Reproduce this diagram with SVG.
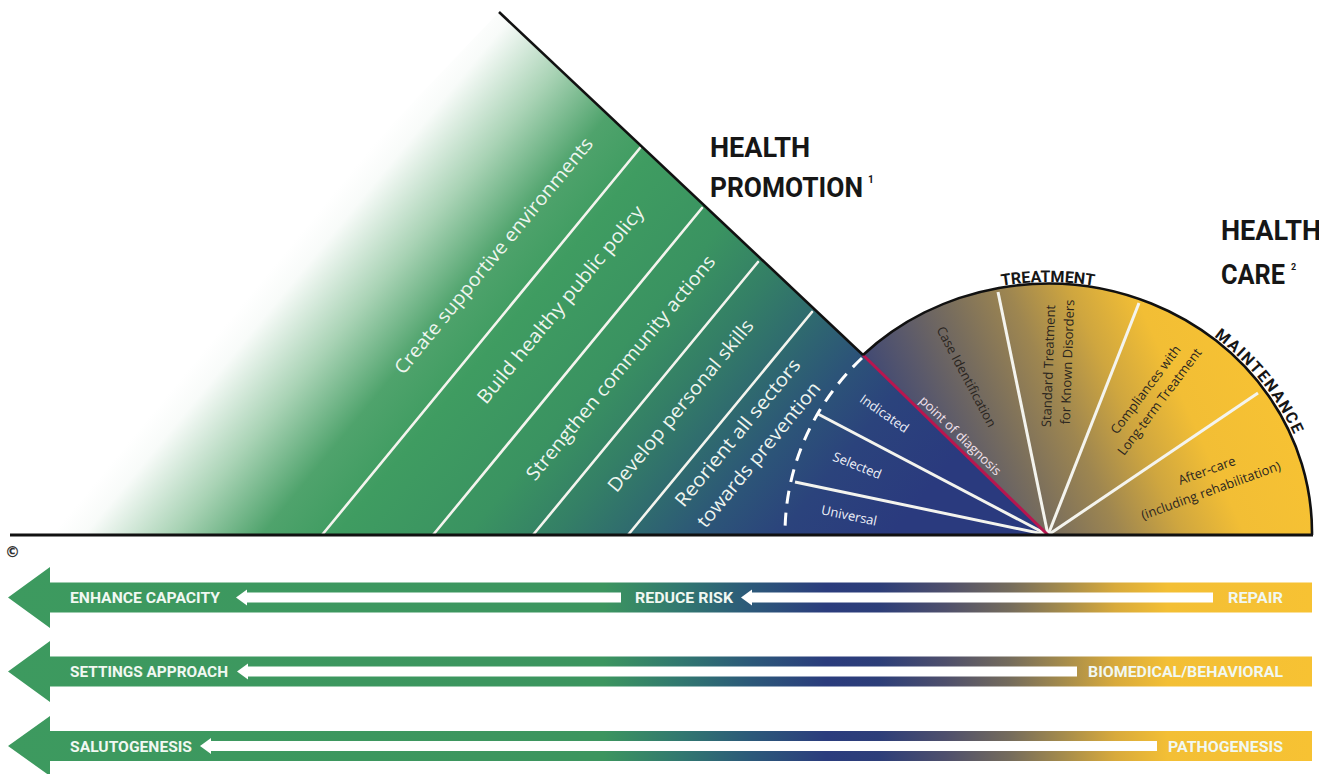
<svg xmlns="http://www.w3.org/2000/svg" width="1319" height="774" viewBox="0 0 1319 774">
<defs>
<linearGradient id="gTri" gradientUnits="userSpaceOnUse" x1="294" y1="241" x2="850" y2="699">
<stop offset="0" stop-color="#ffffff"/>
<stop offset="0.035" stop-color="#f8fbf9"/>
<stop offset="0.13" stop-color="#a9d3b5"/>
<stop offset="0.225" stop-color="#4fa36c"/>
<stop offset="0.305" stop-color="#3f9c61"/>
<stop offset="0.445" stop-color="#3a9361"/>
<stop offset="0.54" stop-color="#347f66"/>
<stop offset="0.62" stop-color="#2f6a6f"/>
<stop offset="0.7" stop-color="#2c5478"/>
<stop offset="0.78" stop-color="#2b437c"/>
<stop offset="0.9" stop-color="#2a3a7e"/>
<stop offset="1" stop-color="#2a3a7e"/>
</linearGradient>
<linearGradient id="gFan" gradientUnits="userSpaceOnUse" x1="880" y1="500" x2="1250" y2="330">
<stop offset="0" stop-color="#2d3c7c"/>
<stop offset="0.1" stop-color="#3f4874"/>
<stop offset="0.22" stop-color="#5a596b"/>
<stop offset="0.35" stop-color="#786d5d"/>
<stop offset="0.5" stop-color="#9e8650"/>
<stop offset="0.64" stop-color="#cfa63f"/>
<stop offset="0.78" stop-color="#f2be35"/>
<stop offset="1" stop-color="#f7c233"/>
</linearGradient>
<linearGradient id="gArrow" gradientUnits="userSpaceOnUse" x1="0" y1="0" x2="1312" y2="0">
<stop offset="0" stop-color="#3d9a5f"/>
<stop offset="0.46" stop-color="#3c955f"/>
<stop offset="0.52" stop-color="#317770"/>
<stop offset="0.57" stop-color="#2c5a79"/>
<stop offset="0.63" stop-color="#2b3c7d"/>
<stop offset="0.67" stop-color="#2d3e79"/>
<stop offset="0.72" stop-color="#4e4f6c"/>
<stop offset="0.77" stop-color="#756c5c"/>
<stop offset="0.81" stop-color="#a48b4c"/>
<stop offset="0.85" stop-color="#d8aa3c"/>
<stop offset="0.89" stop-color="#f3bf35"/>
<stop offset="1" stop-color="#f7c233"/>
</linearGradient>
<path id="outerArc" d="M 780,535 A 268 253 0 0 1 1316,535"/>
</defs>
<style>
.wl{stroke:#f4f4ee;stroke-width:2.6;fill:none;stroke-linecap:round}
.fl{stroke:#f4f4ee;stroke-width:3;fill:none}
.out{stroke:#111;stroke-width:2.6;fill:none}
.tri{font-family:"Open Sans","DejaVu Sans",sans-serif;font-size:19px;fill:#eef5ef;text-anchor:middle}
.fan{font-family:"Open Sans","DejaVu Sans",sans-serif;font-size:13px;text-anchor:middle}
.dark{fill:#2a2520}
.light{fill:#eef0f8}
.head{font-family:Roboto,"Liberation Sans",sans-serif;font-weight:700;fill:#161616}
.arc{font-family:Roboto,"Liberation Sans",sans-serif;font-weight:700;font-size:16px;fill:#161616}
.ab{font-family:Roboto,"Liberation Sans",sans-serif;font-weight:700;font-size:15px;fill:#f1f8f2}
.wa{fill:#ffffff}
</style>

<g id="promotion-triangle">
<path d="M 499,12 L 863,355 L 1048,535 L 0,535 Z" fill="url(#gTri)"/>
<line class="wl" x1="640" y1="148" x2="322" y2="535"/>
<line class="wl" x1="702" y1="208" x2="433" y2="535"/>
<line class="wl" x1="758" y1="262" x2="533" y2="535"/>
<line class="wl" x1="812" y1="312" x2="628" y2="535"/>
<text class="tri" transform="translate(494,256) rotate(-50.5)" dy="6" textLength="300" lengthAdjust="spacingAndGlyphs">Create supportive environments</text>
<text class="tri" transform="translate(561,305) rotate(-50.5)" dy="6" textLength="250" lengthAdjust="spacingAndGlyphs">Build healthy public policy</text>
<text class="tri" transform="translate(621,368) rotate(-50.5)" dy="6" textLength="285" lengthAdjust="spacingAndGlyphs">Strengthen community actions</text>
<text class="tri" transform="translate(681,406) rotate(-50.5)" dy="6" textLength="217" lengthAdjust="spacingAndGlyphs">Develop personal skills</text>
<text class="tri" transform="translate(738,433) rotate(-50.5)" dy="6" textLength="185" lengthAdjust="spacingAndGlyphs">Reorient all sectors</text>
<text class="tri" transform="translate(759,455) rotate(-50.5)" dy="6" textLength="182" lengthAdjust="spacingAndGlyphs">towards prevention</text>
</g>

<g id="care-fan">
<path d="M 1048,535 L 863,355 A 264 249 0 0 1 1312,535 Z" fill="url(#gFan)"/>
</g>

<g id="connectors">
<line class="fl" x1="795" y1="482" x2="1048" y2="535"/>
<line class="fl" x1="818" y1="414" x2="1048" y2="535"/>
<line class="fl" x1="998" y1="292" x2="1048" y2="535"/>
<line class="fl" x1="1139" y1="303" x2="1048" y2="535"/>
<line class="fl" x1="1258" y1="393" x2="1048" y2="535"/>
<line x1="863" y1="355" x2="1048" y2="535" stroke="#b8164f" stroke-width="3"/>
<path d="M 862,358 A 264 249 0 0 0 785,535" fill="none" stroke="#ffffff" stroke-width="3" stroke-dasharray="13 9"/>
<line class="out" x1="499" y1="12" x2="863" y2="355"/>
<path class="out" d="M 863,355 A 264 249 0 0 1 1312,535"/>
<line x1="10" y1="535" x2="1313" y2="535" stroke="#111" stroke-width="3"/>
</g>

<g id="prevention-labels">
<text class="fan light" transform="translate(884,414) rotate(35)" dy="4">Indicated</text>
<text class="fan light" transform="translate(857,466) rotate(22)" dy="4">Selected</text>
<text class="fan light" transform="translate(849,516) rotate(12)" dy="4">Universal</text>
<text class="fan" fill="#f2e2ec" transform="translate(960,436) rotate(44)" dy="4">point of diagnosis</text>
</g>

<g id="treatment-labels">
<text class="fan dark" transform="translate(966,377) rotate(62)" dy="4">Case Identification</text>
<text class="fan dark" transform="translate(1049,366) rotate(-88)" dy="4">Standard Treatment</text>
<text class="fan dark" transform="translate(1068,362) rotate(-88)" dy="4">for Known Disorders</text>
<text class="fan dark" transform="translate(1146,390) rotate(-53)" dy="4">Compliances with</text>
<text class="fan dark" transform="translate(1160,402) rotate(-53)" dy="4">Long-term Treatment</text>
<text class="fan dark" transform="translate(1207,471) rotate(-20)" dy="4">After-care</text>
<text class="fan dark" transform="translate(1211,491) rotate(-20)" dy="4">(including rehabilitation)</text>
</g>

<g id="arc-labels">
<text class="arc"><textPath href="#outerArc" startOffset="50%" text-anchor="middle">TREATMENT</textPath></text>
<text class="arc" letter-spacing="1.5"><textPath href="#outerArc" startOffset="79.6%" text-anchor="middle">MAINTENANCE</textPath></text>
</g>

<g id="health-promotion-title">
<text class="head" x="710" y="157" font-size="27" textLength="100" lengthAdjust="spacingAndGlyphs">HEALTH</text>
<text class="head" x="710" y="197" font-size="27" textLength="153" lengthAdjust="spacingAndGlyphs">PROMOTION</text>
<text class="head" x="868" y="183" font-size="10">1</text>
</g>

<g id="health-care-title">
<text class="head" x="1221" y="240" font-size="27" textLength="100" lengthAdjust="spacingAndGlyphs">HEALTH</text>
<text class="head" x="1221" y="284" font-size="27" textLength="64" lengthAdjust="spacingAndGlyphs">CARE</text>
<text class="head" x="1291" y="270" font-size="9">2</text>
</g>

<g id="copyright">
<text x="5" y="557" font-family="'DejaVu Sans',sans-serif" font-size="15" font-weight="700" fill="#333">©</text>
</g>

<g id="arrow-1">
<path d="M 8,597.5 L 50,567 L 50,582.5 L 1312,582.5 L 1312,612.5 L 50,612.5 L 50,628 Z" fill="url(#gArrow)"/>
<text class="ab" x="70" y="603" textLength="150" lengthAdjust="spacingAndGlyphs">ENHANCE CAPACITY</text>
<path class="wa" d="M 236,597.5 L 247,589.5 L 247,592.5 L 621,592.5 L 621,602.5 L 247,602.5 L 247,605.5 Z"/>
<text class="ab" x="635" y="603" textLength="98" lengthAdjust="spacingAndGlyphs">REDUCE RISK</text>
<path class="wa" d="M 741,597.5 L 752,589.5 L 752,592.5 L 1213,592.5 L 1213,602.5 L 752,602.5 L 752,605.5 Z"/>
<text class="ab" x="1228" y="603" textLength="55" lengthAdjust="spacingAndGlyphs">REPAIR</text>
</g>

<g id="arrow-2">
<path d="M 8,671.5 L 50,641 L 50,656.5 L 1312,656.5 L 1312,686.5 L 50,686.5 L 50,702 Z" fill="url(#gArrow)"/>
<text class="ab" x="70" y="677" textLength="158" lengthAdjust="spacingAndGlyphs">SETTINGS APPROACH</text>
<path class="wa" d="M 237,671.5 L 248,663.5 L 248,666.5 L 1077,666.5 L 1077,676.5 L 248,676.5 L 248,679.5 Z"/>
<text class="ab" x="1088" y="677" textLength="195" lengthAdjust="spacingAndGlyphs">BIOMEDICAL/BEHAVIORAL</text>
</g>

<g id="arrow-3">
<path d="M 8,746 L 50,716 L 50,731 L 1312,731 L 1312,761 L 50,761 L 50,776 Z" fill="url(#gArrow)"/>
<text class="ab" x="70" y="751.5" textLength="122" lengthAdjust="spacingAndGlyphs">SALUTOGENESIS</text>
<path class="wa" d="M 200,746 L 211,738 L 211,741 L 1157,741 L 1157,751 L 211,751 L 211,754 Z"/>
<text class="ab" x="1168" y="751.5" textLength="115" lengthAdjust="spacingAndGlyphs">PATHOGENESIS</text>
</g>
</svg>
